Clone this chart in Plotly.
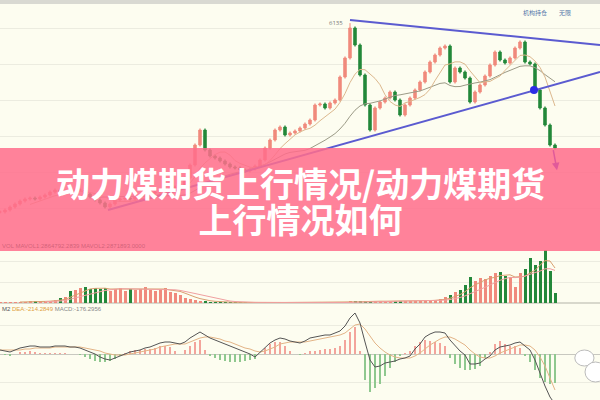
import plotly.graph_objects as go
import pandas as pd

# ---------------- data ----------------
closes = [
    889, 944, 1027, 1111, 1194, 1250, 1277, 1250, 1305, 1361,
    1444, 1500, 1444, 1472, 1416, 1500, 1500, 1389, 1305, 1222,
    1139, 1027, 1111, 1222, 1250, 1277, 1250, 1305, 1333, 1389,
    1416, 1444, 1500, 1527, 1555, 1583, 1638, 1833, 2194, 2750,
    3166, 2611, 2444, 2389, 2305, 2222, 2139, 2111, 2055, 2027,
    2083, 2166, 2333, 2666, 2889, 3166, 3250, 3028, 3083, 3139,
    3222, 3333, 3444, 3861, 3889, 3778, 3917, 4000, 4639, 5167,
    6000, 5528, 4694, 3861, 3166, 3778, 3944, 4055, 4222, 4000,
    3583, 3861, 4055, 4278, 4500, 4778, 5055, 5250, 5444, 5500,
    4500, 4889, 4778, 4611, 3944, 4222, 4417, 4667, 4972, 5333,
    5111, 5028, 5167, 5444, 5611, 5055, 5000, 4278, 3778, 3305,
    2750, 2666,
]
volumes = [
    10, 10, 10, 10, 10, 10, 15, 15, 20, 20,
    20, 30, 50, 60, 120, 130, 150, 160, 140, 150,
    140, 150, 120, 140, 150, 120, 140, 130, 140, 160,
    130, 120, 140, 150, 110, 100, 80, 50, 40, 30,
    20, 15, 10, 10, 10, 5, 5, 5, 5, 5,
    5, 5, 5, 5, 5, 5, 5, 5, 5, 5,
    5, 5, 5, 5, 5, 5, 5, 5, 5, 5,
    15, 15, 20, 15, 20, 15, 20, 20, 15, 20,
    20, 15, 20, 20, 25, 30, 25, 30, 40, 60,
    80, 110, 130, 180, 260, 220, 250, 240, 270, 300,
    310, 270, 260, 160, 300, 340, 450, 380, 420, 530,
    320, 100,
]
dif = [
    24, 18, 12, 24, 36, 42, 48, 48, 42, 42,
    42, 48, 48, 48, 42, 42, 36, 24, 12, 0,
    -18, -30, -36, -24, -12, 0, 12, 18, 24, 36,
    42, 54, 66, 72, 72, 66, 60, 72, 96, 114,
    132, 114, 96, 84, 72, 60, 48, 36, 24, 12,
    0, -18, 12, 42, 66, 84, 96, 90, 78, 72,
    66, 78, 96, 102, 108, 114, 114, 126, 138, 168,
    216, 246, 186, 72, -36, -78, -72, -54, -48, -42,
    -30, -24, -12, 30, 60, 102, 120, 132, 132, 126,
    84, 48, 18, -6, -60, -60, -54, -30, -12, 24,
    42, 48, 54, 66, 72, 48, 24, -36, -120, -192,
    -258, -300,
]
dea = [
    24, 24, 24, 24, 24, 30, 30, 36, 36, 36,
    36, 42, 42, 42, 42, 42, 42, 36, 30, 24,
    18, 6, 0, -6, -6, -6, 0, 6, 12, 18,
    24, 30, 42, 48, 54, 60, 60, 60, 72, 84,
    96, 102, 102, 96, 90, 78, 72, 60, 48, 36,
    30, 18, 12, 18, 30, 42, 60, 66, 72, 72,
    72, 72, 78, 84, 90, 96, 102, 108, 114, 126,
    150, 174, 180, 150, 108, 66, 36, 12, -6, -18,
    -24, -24, -24, -12, 6, 30, 54, 72, 90, 102,
    102, 90, 72, 54, 24, 0, -18, -24, -24, -12,
    6, 18, 30, 42, 54, 54, 48, 24, -18, -72,
    -144, -216,
]
macd_hist = [
    0, -6, -12, 0, 12, 12, 18, 12, 6, 6,
    6, 6, 6, 6, 0, 0, -6, -18, -30, -42,
    -48, -48, -42, -30, -12, 6, 18, 24, 24, 30,
    30, 36, 48, 48, 42, 18, 0, 24, 48, 72,
    84, 24, -12, -24, -36, -42, -48, -48, -48, -42,
    -36, -30, 0, 36, 60, 72, 72, 48, 18, 0,
    -6, 6, 18, 18, 24, 30, 30, 36, 48, 84,
    132, 162, 18, -156, -228, -204, -180, -132, -84, -48,
    -12, 6, 18, 48, 72, 84, 78, 72, 66, 48,
    -24, -60, -84, -96, -96, -90, -72, -24, 12, 60,
    78, 60, 48, 48, 36, -12, -48, -96, -144, -168,
    -180, -176,
]
peak_high = 6135
upper_line_x = [70, 120]
upper_line_y = [6222, 5528]
lower_line_x = [21.6, 120]
lower_line_y = [944, 4778]
break_point = (106.8, 4278)
arrow_from = (110.6, 2650)
arrow_to = (111.4, 2050)

title_line1 = "动力煤期货上行情况/动力煤期货"
title_line2 = "上行情况如何"
macd_label = ('<span style="color:#555">M2 </span>'
              '<span style="color:#e0a040">DEA:-214.2849</span> '
              '<span style="color:#888">MACD:-176.2956</span>')
vol_label = "VOL MAVOL1:2864792.2839 MAVOL2:2871893.0000"

# ---------------- derived ----------------
n = len(closes)
idx = list(range(n))
wick = 45
opens = [closes[0]] + closes[:-1]
highs = [max(o, c) + wick for o, c in zip(opens, closes)]
lows = [min(o, c) - wick for o, c in zip(opens, closes)]
pk = closes.index(max(closes))
highs[pk] = peak_high
ma_long = pd.Series(closes).rolling(20).mean()
ma_short = pd.Series(closes).rolling(7).mean()
vol_ma1 = pd.Series(volumes).rolling(5).mean()
vol_ma2 = pd.Series(volumes).rolling(10).mean()

RED = "#f08a7c"
GREEN = "#23883a"
vol_colors = [RED if c >= o else GREEN for o, c in zip(opens, closes)]
hist_colors = ["#f3a49b" if v >= 0 else "#8fc88f" for v in macd_hist]

BG = "#fdfdf0"
GRID = "#ecece0"

fig = go.Figure()

# price panel
fig.add_trace(go.Scatter(x=idx, y=ma_long, mode="lines", line=dict(color="#9b9a86", width=1),
                         xaxis="x", yaxis="y", hoverinfo="skip"))
fig.add_trace(go.Scatter(x=idx, y=ma_short, mode="lines", line=dict(color="#dcb88e", width=1),
                         xaxis="x", yaxis="y", hoverinfo="skip"))
fig.add_trace(go.Candlestick(x=idx, open=opens, high=highs, low=lows, close=closes,
                             increasing=dict(line=dict(color=RED, width=1), fillcolor=RED),
                             decreasing=dict(line=dict(color=GREEN, width=1), fillcolor=GREEN),
                             whiskerwidth=0, xaxis="x", yaxis="y"))
fig.add_trace(go.Scatter(x=upper_line_x, y=upper_line_y, mode="lines",
                         line=dict(color="#5b5bd0", width=2), xaxis="x", yaxis="y"))
fig.add_trace(go.Scatter(x=lower_line_x, y=lower_line_y, mode="lines",
                         line=dict(color="#5b5bd0", width=2), xaxis="x", yaxis="y"))
fig.add_trace(go.Scatter(x=[break_point[0]], y=[break_point[1]], mode="markers",
                         marker=dict(color="#2d2de6", size=8), xaxis="x", yaxis="y"))

# volume panel
fig.add_trace(go.Bar(x=idx, y=volumes, marker=dict(color=vol_colors, line=dict(width=0)),
                     width=0.6, xaxis="x2", yaxis="y2"))
fig.add_trace(go.Scatter(x=idx, y=vol_ma1, mode="lines", line=dict(color="#d9a070", width=1),
                         xaxis="x2", yaxis="y2"))
fig.add_trace(go.Scatter(x=idx, y=vol_ma2, mode="lines", line=dict(color="#f0a0a0", width=1),
                         xaxis="x2", yaxis="y2"))

# MACD panel
fig.add_trace(go.Bar(x=idx, y=macd_hist, marker=dict(color=hist_colors, line=dict(width=0)),
                     width=0.4, xaxis="x3", yaxis="y3"))
fig.add_trace(go.Scatter(x=idx, y=dea, mode="lines", line=dict(color="#e3b487", width=1),
                         xaxis="x3", yaxis="y3"))
fig.add_trace(go.Scatter(x=idx, y=dif, mode="lines", line=dict(color="#555555", width=1),
                         xaxis="x3", yaxis="y3"))

xcommon = dict(range=[0, 120], showgrid=False, zeroline=False, showticklabels=False,
               ticks="", fixedrange=True)

fig.update_layout(
    width=600, height=400,
    margin=dict(l=0, r=0, t=0, b=0),
    paper_bgcolor=BG, plot_bgcolor=BG,
    showlegend=False, bargap=0,
    xaxis=dict(**xcommon, anchor="y", rangeslider=dict(visible=False)),
    xaxis2=dict(**xcommon, anchor="y2"),
    xaxis3=dict(**xcommon, anchor="y3"),
    yaxis=dict(domain=[0.4, 0.9875], range=[111, 6639], dtick=1000, tick0=0,
               showgrid=True, gridcolor=GRID, gridwidth=1, zeroline=False,
               showticklabels=False, ticks=""),
    yaxis2=dict(domain=[0.2425, 0.375], range=[0, 530], tickvals=[210, 420],
                showgrid=True, gridcolor=GRID, zeroline=True, zerolinecolor="#d8d8cc",
                showticklabels=False, ticks=""),
    yaxis3=dict(domain=[0, 0.2375], range=[-276, 294], tickvals=[-171, 171],
                showgrid=True, gridcolor=GRID, zeroline=True, zerolinecolor="#c8c8c0",
                zerolinewidth=1, showticklabels=False, ticks=""),
)

shapes = [
    # top toolbar strip
    dict(type="rect", xref="paper", yref="paper", x0=0, x1=1, y0=0.99, y1=1,
         fillcolor="#d9d9d2", line=dict(width=0), layer="above"),
    # pink title banner
    dict(type="rect", xref="paper", yref="paper", x0=0, x1=1, y0=0.3725, y1=0.63,
         fillcolor="rgba(255,110,140,0.86)", line=dict(width=0), layer="above"),
    # wechat icon (two small bubbles)
    dict(type="circle", xref="paper", yref="paper", x0=0.958, x1=0.99, y0=0.085, y1=0.125,
         fillcolor="white", line=dict(color="#bbbbbb", width=1), layer="above"),
    dict(type="circle", xref="paper", yref="paper", x0=0.975, x1=1.01, y0=0.045, y1=0.095,
         fillcolor="white", line=dict(color="#bbbbbb", width=1), layer="above"),
]
fig.update_layout(shapes=shapes)

title_html = ('<span style="font-size:34px"><b>' + title_line1 + '</b></span><br>'
              '<span style="font-size:34px"><b>' + title_line2 + '</b></span>')

annotations = [
    dict(x=0.5, y=1 - 201 / 400, xref="paper", yref="paper", yanchor="middle",
         text=title_html, showarrow=False,
         font=dict(family="Noto Sans CJK SC", size=28, color="white")),
    dict(x=pk - 1, y=peak_high, xref="x", yref="y", text=str(peak_high), showarrow=False,
         xanchor="right", font=dict(size=6, color="#777777")),
    dict(x=arrow_to[0], y=arrow_to[1], ax=arrow_from[0], ay=arrow_from[1],
         xref="x", yref="y", axref="x", ayref="y", text="", showarrow=True,
         arrowhead=2, arrowsize=1, arrowwidth=1.5, arrowcolor="#e05a9a"),
    dict(x=0, y=1 - 309 / 400, xref="paper", yref="paper", text=macd_label,
         showarrow=False, xanchor="left", yanchor="middle",
         font=dict(size=6, family="Liberation Sans")),
    dict(x=0, y=1 - 246 / 400, xref="paper", yref="paper", text=vol_label,
         showarrow=False, xanchor="left", yanchor="middle",
         font=dict(size=6, family="Liberation Sans", color="rgba(170,70,90,0.55)")),
    dict(x=0.915, y=1 - 12 / 400, xref="paper", yref="paper", text="机构持仓",
         showarrow=False, xanchor="right", yanchor="middle",
         font=dict(size=6, color="#5577aa", family="Noto Sans CJK SC")),
    dict(x=0.955, y=1 - 12 / 400, xref="paper", yref="paper", text="无限",
         showarrow=False, xanchor="right", yanchor="middle",
         font=dict(size=6, color="#5577aa", family="Noto Sans CJK SC")),
]
fig.update_layout(annotations=annotations)

fig.write_html("out.html", config={"displayModeBar": False},
               post_script="document.body.style.margin='0';")
